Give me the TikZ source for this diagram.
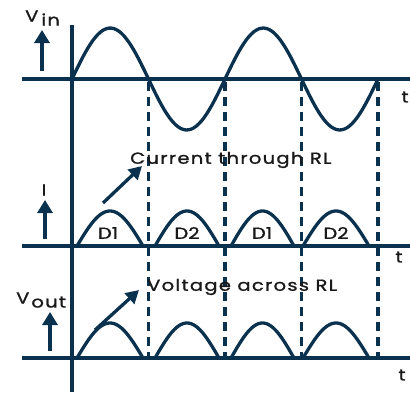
\documentclass[tikz,border=0pt]{standalone}
\usepackage{fontspec}
\setmainfont{Poppins}[FakeBold=1.2, FakeStretch=1.22]
\usepackage{tikz}
\usetikzlibrary{arrows.meta}
\definecolor{wave}{RGB}{10,50,78}
\definecolor{txt}{RGB}{25,25,25}

\begin{document}
\begin{tikzpicture}[
    x=1pt, y=-1pt,
    axis/.style={draw=wave, line width=3.3pt},
    curve/.style={draw=wave, line width=3.3pt, smooth, samples=60},
    guide/.style={draw=wave, line width=3.3pt, dash pattern=on 9pt off 6pt},
    uparrow/.style={draw=wave, line width=3.3pt, -{Triangle[width=15pt,length=13pt]}},
    pointer/.style={draw=wave, line width=3.3pt, -{Triangle[width=14pt,length=13pt]}},
    lbl/.style={text=txt, font=\fontsize{16}{16}\selectfont\addfontfeature{LetterSpace=8}, inner sep=0pt},
    arch/.style={text=txt, font=\fontsize{16}{16}\selectfont, inner sep=0pt}
  ]
    \useasboundingbox (0,0) rectangle (410,392);
    % axes
    \coordinate (top) at (72,25);
    \coordinate (bottom) at (72,392);
    \draw[axis] (top) -- (bottom);
    \foreach \name/\y in {vin/79, cur/246, vout/358} {
      \coordinate (\name-l) at (22,\y);
      \coordinate (\name-r) at (410,\y);
      \draw[axis] (\name-l) -- (\name-r);
    }
    % input sine
    \draw[curve, domain=72:378] plot (\x, {79-51*sin((\x-72)/76.5*180)});
    % zero crossings
    \foreach \i/\x in {1/148.5, 2/225, 3/301.5, 4/378} {
      \coordinate (z\i-top) at (\x,82);
      \coordinate (z\i-bot) at (\x,358);
      \draw[guide] (z\i-top) -- (z\i-bot);
    }
    % rectified half waves
    \foreach \a/\b in {77/143, 155/219, 231/294, 303/369} {
      \draw[curve, domain=\a:\b] plot (\x, {246-35*sin((\x-\a)/(\b-\a)*180)});
      \draw[curve, domain=\a:\b] plot (\x, {358-35*sin((\x-\a)/(\b-\a)*180)});
    }
    % labels
    \node[lbl, anchor=west] (vin) at (25,18) {V\hspace{3pt}\raisebox{-4pt}{in}};
    \node[lbl] (cur) at (44,190) {I};
    \node[lbl, anchor=west] (vout) at (16,300) {V\hspace{2pt}\raisebox{-4pt}{out}};
    \node[lbl] (t1) at (405,97) {t};
    \node[lbl] (t2) at (399,257) {t};
    \node[lbl] (t3) at (402,375) {t};
    \node[arch] (d1a) at (108,233) {D1};
    \node[arch] (d2a) at (187,233) {D2};
    \node[arch] (d1b) at (262,233) {D1};
    \node[arch] (d2b) at (336,233) {D2};
    \node[lbl, anchor=west] (curtxt) at (130,160) {Current through RL};
    \node[lbl, anchor=west] (volttxt) at (147,287) {Voltage across RL};
    % direction arrows
    \coordinate (a1) at (42,71);   \coordinate (a1t) at (42,30);
    \coordinate (a2) at (45,239);  \coordinate (a2t) at (45,200);
    \coordinate (a3) at (50,351);  \coordinate (a3t) at (50,312);
    \draw[uparrow] (a1) -- (a1t);
    \draw[uparrow] (a2) -- (a2t);
    \draw[uparrow] (a3) -- (a3t);
    \coordinate (p1) at (103,203); \coordinate (p1t) at (142,166);
    \coordinate (p2) at (95,330);  \coordinate (p2t) at (139,290);
    \draw[pointer] (p1) -- (p1t);
    \draw[pointer] (p2) -- (p2t);
\end{tikzpicture}
\end{document}
